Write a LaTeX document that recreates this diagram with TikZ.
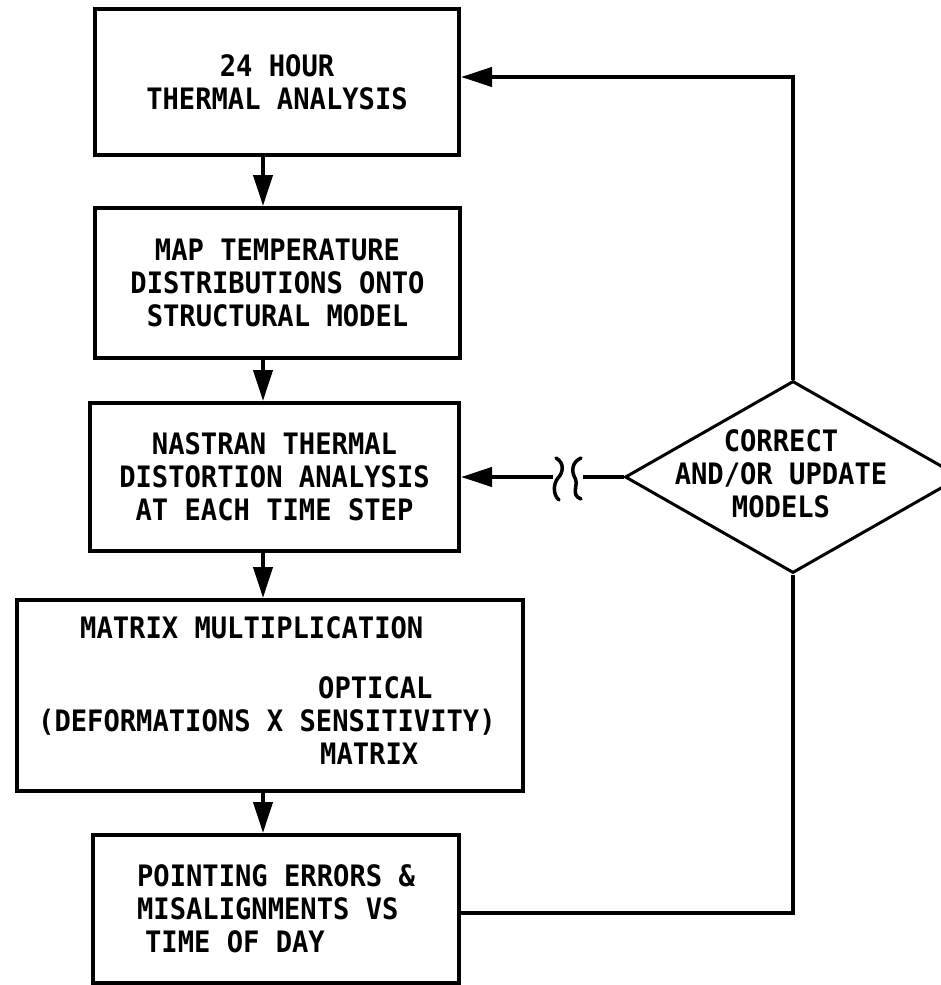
\documentclass[tikz,border=0pt]{standalone}
\usepackage{fontspec}
\newfontfamily\plotfont{DejaVu Sans Mono}[FakeStretch=0.92]
\usetikzlibrary{arrows.meta,shapes.geometric}
\tikzset{
  procbox/.style={draw, line width=4pt, rectangle, inner sep=0pt, align=center},
  lbl/.style={inner sep=0pt, anchor=base west},
  conn/.style={line width=4pt},
  arr/.style={line width=4pt, -{Triangle[length=31pt,width=19pt]}},
}
\begin{document}
\begin{tikzpicture}[x=1pt,y=-1pt,
  every node/.style={font=\plotfont\bfseries\fontsize{29.5pt}{33pt}\selectfont}]
\useasboundingbox (0,0) rectangle (940,985);
% boxes
\node[procbox, minimum width=364pt, minimum height=146pt] (b1) at (277,82)
  {24 HOUR\\THERMAL ANALYSIS};
\node[procbox, minimum width=365pt, minimum height=150pt] (b2) at (277.5,283)
  {MAP TEMPERATURE\\DISTRIBUTIONS ONTO\\STRUCTURAL MODEL};
\node[procbox, minimum width=369pt, minimum height=148pt] (b3) at (274.5,477)
  {NASTRAN THERMAL\\DISTORTION ANALYSIS\\AT EACH TIME STEP};
\node[procbox, minimum width=506pt, minimum height=191pt] (b4) at (270,695.5) {};
\node[lbl] (t4a) at (80,638) {MATRIX MULTIPLICATION};
\node[lbl] (t4b) at (318,698) {OPTICAL};
\node[lbl] (t4c) at (38,731) {(DEFORMATIONS X SENSITIVITY)};
\node[lbl] (t4d) at (320,764) {MATRIX};
\node[procbox, minimum width=366pt, minimum height=148pt, align=left] (b5) at (276,909)
  {POINTING ERRORS \&\\MISALIGNMENTS VS\\\hspace*{8pt}TIME OF DAY};
% decision
\node[draw, diamond, line width=3pt, inner sep=0pt, minimum width=336pt, minimum height=192pt] (dec) at (793,477) {};
\node[inner sep=0pt, align=center] (dect) at (781,474) {CORRECT\\AND/OR UPDATE\\MODELS};
% down arrows
\coordinate (ax) at (263,0);
\draw[arr] (b1.south -| ax) -- (b2.north -| ax);
\draw[arr] (b2.south -| ax) -- (b3.north -| ax);
\draw[arr] (b3.south -| ax) -- (b4.north -| ax);
\draw[arr] (b4.south -| ax) -- (b5.north -| ax);
% feedback loops
\draw[arr] (dec.north) |- ([yshift=5pt]b1.east);
\draw[conn] (dec.south) |- ([yshift=-4pt]b5.east);
% broken line
\coordinate (brkL) at (553,477);
\coordinate (brkR) at (583,477);
\draw[arr] (brkL) -- (b3.east);
\draw[conn] (dec.west) -- (brkR);
\draw[line width=3.5pt, line cap=round] (556,458) .. controls (565,463) and (563,473) .. (558,478)
  .. controls (553,484) and (553,495) .. (559,500);
\draw[line width=3.5pt, line cap=round] (581,458) .. controls (572,462) and (571,471) .. (575,478)
  .. controls (579,485) and (570,495) .. (581,499);
\end{tikzpicture}
\end{document}
